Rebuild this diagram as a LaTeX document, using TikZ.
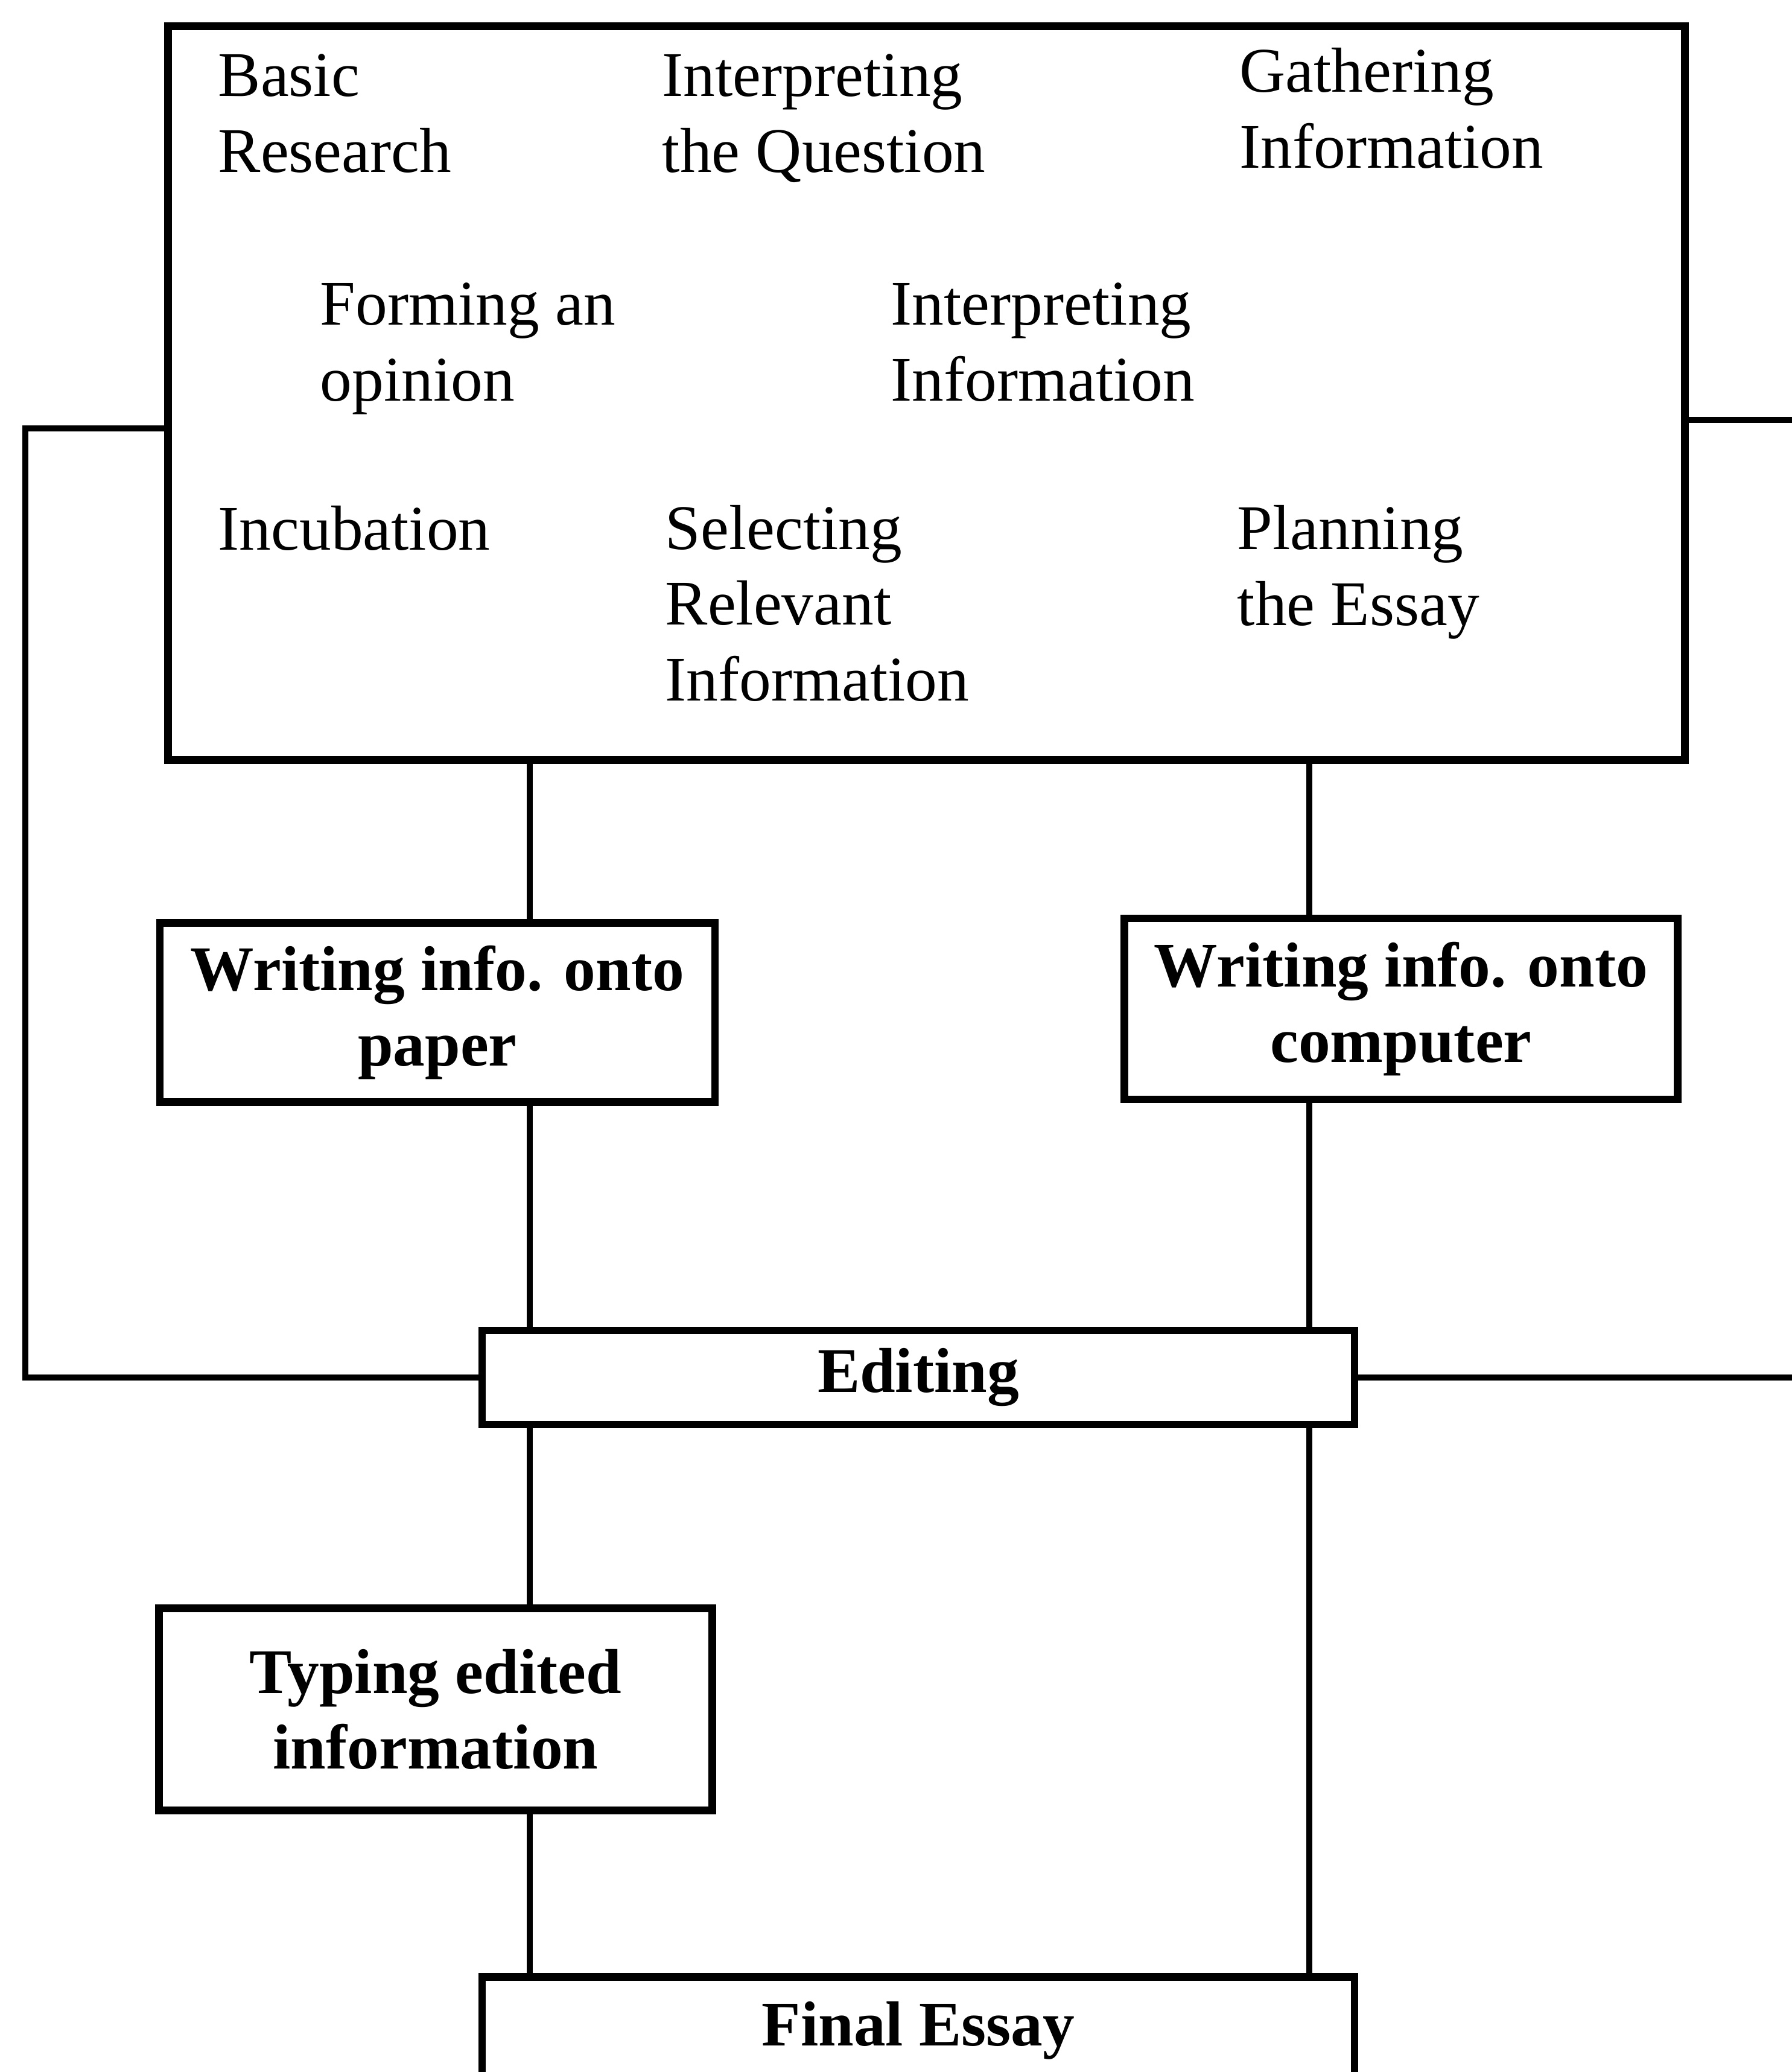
\documentclass[tikz,border=0pt]{standalone}
\usepackage{fontspec}
\setmainfont{Liberation Serif}
\usepackage{tikz}
\usetikzlibrary{positioning}
\tikzset{>=stealth,
  stagebox/.style={draw,line width=3.6pt,inner sep=0pt,align=center,font=\bfseries},
  stagetext/.style={anchor=base west,inner sep=0pt,align=left},
  link/.style={line width=2.8pt}}

\begin{document}
\begin{tikzpicture}[x=1cm,y=1cm]
      \useasboundingbox (0,0) rectangle (29.70,-34.34);
      \fontsize{30}{35.6}\selectfont

      % the big box with the stages (base = last line)
      \node[draw,line width=3.6pt,anchor=north west,minimum width=25.14cm,minimum height=12.16cm,inner sep=0pt] (stages) at (2.72,-0.37) {};
      \node[stagetext] at (3.61,-2.85) (basic) {Basic\\Research};
      \node[stagetext] at (10.97,-2.85) (interpQ) {Interpreting\\the Question};
      \node[stagetext] at (20.54,-2.78) (gather) {Gathering\\Information};
      \node[stagetext] at (5.30,-6.64) (opinion) {Forming an\\opinion};
      \node[stagetext] at (14.76,-6.64) (interpI) {Interpreting\\Information};
      \node[stagetext] at (3.61,-9.11) (incub) {Incubation};
      \node[stagetext] at (11.02,-11.61) (select) {Selecting\\Relevant\\Information};
      \node[stagetext] at (20.50,-10.36) (plan) {Planning\\the Essay};

      % boxes below
      \node[stagebox,minimum width=9.20cm,minimum height=2.97cm] at (7.25,-16.78) (paper) {Writing info. onto\\paper};
      \node[stagebox,minimum width=9.17cm,minimum height=3.00cm] at (23.22,-16.72) (computer) {Writing info. onto\\computer};
      \node[stagebox,minimum width=14.46cm,minimum height=1.56cm] at (15.22,-22.83) (editing) {Editing};
      \node[stagebox,minimum width=9.17cm,minimum height=3.35cm] at (7.22,-28.33) (typing) {Typing edited\\information};
      \node[stagebox,minimum width=14.46cm,minimum height=1.78cm,anchor=north] at (15.22,-32.70) (final) {Final Essay};

      \coordinate (lcol) at (8.78,0);
      \coordinate (rcol) at (21.70,0);
      \coordinate (loopL) at (0.42,-7.10);
      \coordinate (loopR) at (29.90,-6.96);

      % the two columns
      \draw[link] (lcol |- stages.south) -- (lcol |- paper.north);
      \draw[link] (lcol |- paper.south) -- (lcol |- editing.north);
      \draw[link] (lcol |- editing.south) -- (lcol |- typing.north);
      \draw[link] (lcol |- typing.south) -- (lcol |- final.north);
      \draw[link] (rcol |- stages.south) -- (rcol |- computer.north);
      \draw[link] (rcol |- computer.south) -- (rcol |- editing.north);
      \draw[link] (rcol |- editing.south) -- (rcol |- final.north);

      % loops back to editing
      \draw[link] (stages.west |- loopL) -- (loopL) |- (editing.west);
      \draw[link] (stages.east |- loopR) -- (loopR);
      \draw[link] (editing.east) -- (editing.east -| loopR);
    \end{tikzpicture}
\end{document}
